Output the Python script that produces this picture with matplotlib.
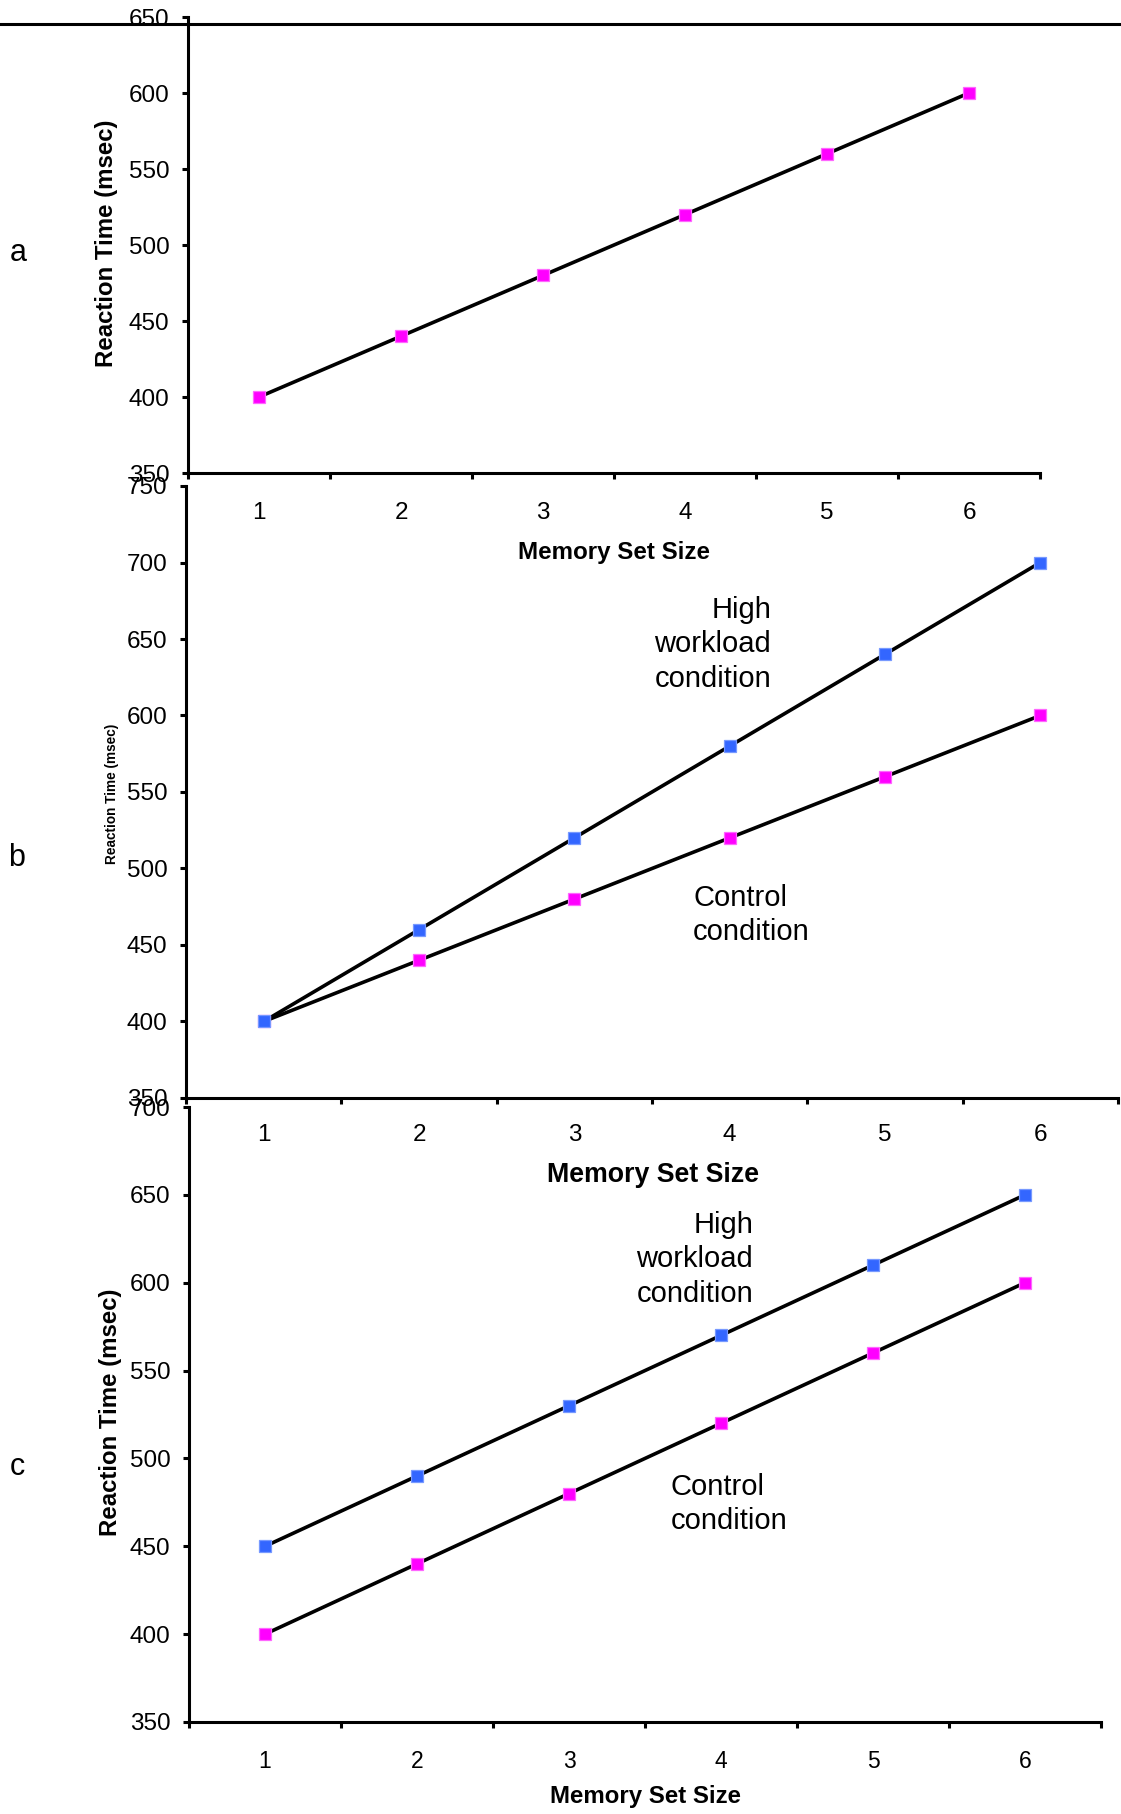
import matplotlib
matplotlib.use("Agg")
import matplotlib.pyplot as plt
from matplotlib.lines import Line2D
import numpy as np

plt.rcParams['font.family'] = ['Liberation Sans', 'DejaVu Sans']

# ---------------- data ----------------
set_size = [1, 2, 3, 4, 5, 6]
rt_a = [400, 440, 480, 520, 560, 600]
rt_b_control = [400, 440, 480, 520, 560, 600]
rt_b_high = [400, 460, 520, 580, 640, 700]
rt_c_control = [400, 440, 480, 520, 560, 600]
rt_c_high = [450, 490, 530, 570, 610, 650]

MAGENTA = '#ff00ff'
MAGENTA_EDGE = '#ff66ff'
BLUE = '#3366ff'
BLUE_EDGE = '#7799ff'

W, H = 1121, 1814
fig = plt.figure(figsize=(W / 100, H / 100), dpi=100)


def fx(x):
    return x / W


def fy(y):
    return 1 - y / H


def add_panel(left, top, right, bottom):
    return fig.add_axes([fx(left), fy(bottom), (right - left) / W, (bottom - top) / H])


def style(ax, ylo, yhi, xsize, ysize, xpad):
    ax.set_xlim(0.5, 6.5)
    ax.set_ylim(ylo, yhi)
    ax.patch.set_alpha(0)
    ax.spines['top'].set_visible(False)
    ax.spines['right'].set_visible(False)
    ax.spines['left'].set_linewidth(2.2)
    ax.spines['bottom'].set_linewidth(2.2)
    ax.set_xticks(set_size)
    ax.set_xticks(np.arange(0.5, 7, 1), minor=True)
    ax.set_yticks(np.arange(ylo, yhi + 1, 50))
    ax.tick_params(axis='x', which='major', length=0, pad=xpad, labelsize=xsize)
    ax.tick_params(axis='x', which='minor', length=4.3, width=2.2, direction='out')
    ax.tick_params(axis='y', length=4.3, width=2.2, pad=9, labelsize=ysize)


def series(ax, y, face, edge):
    ax.plot(set_size, y, '-', color='black', lw=2.6, zorder=2, clip_on=False)
    ax.plot(set_size, y, 's', ms=9, mfc=face, mec=edge, mew=0.9,
            zorder=3, clip_on=False)


# ---------------- panel a ----------------
ax_a = add_panel(188, 17, 1040, 473)
style(ax_a, 350, 650, 17.5, 17.5, 21)
series(ax_a, rt_a, MAGENTA, MAGENTA_EDGE)

# ---------------- panel b ----------------
ax_b = add_panel(186, 486, 1118, 1098)
style(ax_b, 350, 750, 17.5, 17.5, 19)
series(ax_b, rt_b_control, MAGENTA, MAGENTA_EDGE)
series(ax_b, rt_b_high, BLUE, BLUE_EDGE)

# ---------------- panel c ----------------
ax_c = add_panel(189, 1107, 1101, 1722)
style(ax_c, 350, 700, 16.5, 17.5, 20)
series(ax_c, rt_c_control, MAGENTA, MAGENTA_EDGE)
series(ax_c, rt_c_high, BLUE, BLUE_EDGE)

# line across the top
fig.add_artist(Line2D([0, 1], [fy(24), fy(24)], transform=fig.transFigure,
                      color='black', lw=2.2))

# axis titles
fig.text(fx(106), fy(243), 'Reaction Time (msec)', rotation=90, ha='center',
         va='center', fontsize=17.3, fontweight='bold')
fig.text(fx(112), fy(794), 'Reaction Time (msec)', rotation=90, ha='center',
         va='center', fontsize=9.8, fontweight='bold')
fig.text(fx(110), fy(1412), 'Reaction Time (msec)', rotation=90, ha='center',
         va='center', fontsize=17.3, fontweight='bold')

fig.text(fx(614), fy(552), 'Memory Set Size', ha='center', va='center',
         fontsize=17.4, fontweight='bold')
fig.text(fx(653), fy(1175), 'Memory Set Size', ha='center', va='center',
         fontsize=19.3, fontweight='bold')
fig.text(fx(646), fy(1797), 'Memory Set Size', ha='center', va='center',
         fontsize=17.3, fontweight='bold')

# panel letters
fig.text(fx(18), fy(253), 'a', ha='center', va='center', fontsize=22)
fig.text(fx(17), fy(858), 'b', ha='center', va='center', fontsize=22)
fig.text(fx(17), fy(1467), 'c', ha='center', va='center', fontsize=22)

# condition labels
fig.text(fx(771), fy(596), 'High\nworkload\ncondition', ha='right', va='top',
         fontsize=21, linespacing=1.29, multialignment='right')
fig.text(fx(693), fy(884), 'Control\ncondition', ha='left', va='top',
         fontsize=21, linespacing=1.29)
fig.text(fx(753), fy(1211), 'High\nworkload\ncondition', ha='right', va='top',
         fontsize=21, linespacing=1.29, multialignment='right')
fig.text(fx(671), fy(1473), 'Control\ncondition', ha='left', va='top',
         fontsize=21, linespacing=1.29)

fig.savefig('out.png', dpi=100)
